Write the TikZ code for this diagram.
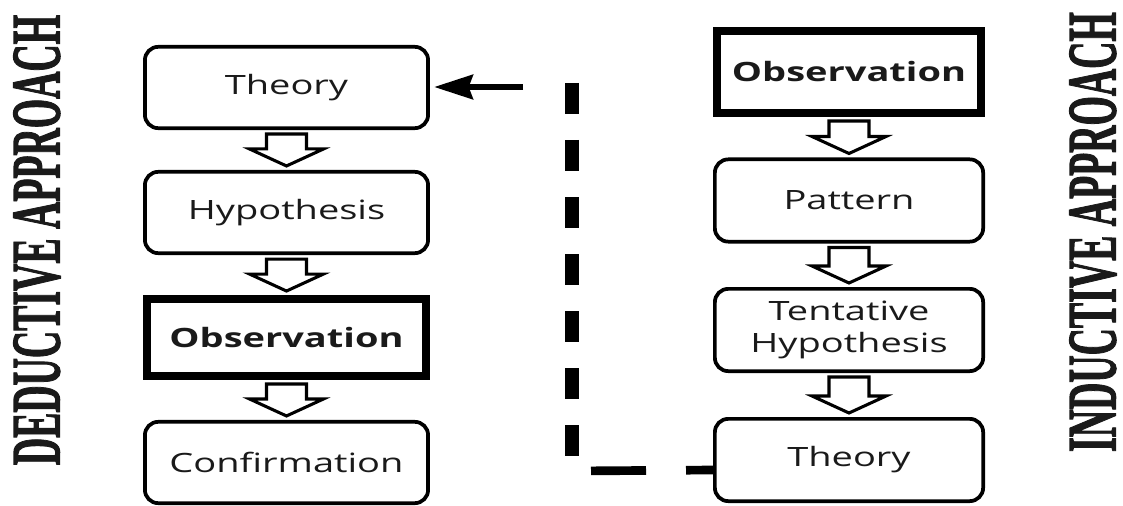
\documentclass[tikz,border=0pt]{standalone}
\usepackage{fontspec}
\usepackage{graphicx}
\setmainfont{Open Sans}
\newfontfamily\labelserif{Liberation Serif Bold}[FakeBold=2]
\usetikzlibrary{arrows.meta,calc}
\definecolor{txt}{HTML}{1A1A1A}
\newcommand\sq[1]{\scalebox{1}[0.7]{#1}}
\newcommand\harrow[2]{%
  \draw[hollow] ($(#1.south)+(-20,4)$) -- ($(#1.south)+(20,4)$) -- ($(#2.north)+(20,-21)$)
    -- ($(#2.north)+(37,-21)$) -- ($(#2.north)+(0,-4)$) -- ($(#2.north)+(-37,-21)$)
    -- ($(#2.north)+(-20,-21)$) -- cycle;}
\begin{document}
\begin{tikzpicture}[x=0.75pt,y=-0.75pt,
  base/.style={draw=black, inner sep=0pt, text=txt, font=\fontsize{28.5}{34}\selectfont},
  lbox/.style={base, line width=2.8pt, rounded corners=10pt, minimum width=212.4pt, minimum height=61pt},
  lthick/.style={base, line width=6pt, minimum width=209.2pt, minimum height=57.7pt, font=\fontsize{28.5}{34}\selectfont\bfseries},
  rbox/.style={base, line width=2.8pt, rounded corners=10pt, minimum width=201.2pt, minimum height=61.7pt},
  rthick/.style={base, line width=6pt, minimum width=198pt, minimum height=61.5pt, font=\fontsize{28.5}{34}\selectfont\bfseries},
  hollow/.style={draw=black, fill=white, line width=2.3pt, line join=miter},
  vdash/.style={draw=black, line width=10pt, dash pattern=on 23.25pt off 19.5pt},
  hdash/.style={draw=black, line width=6.5pt, dash pattern=on 41.25pt off 30pt, dash phase=21pt},
  sidelabel/.style={text=txt, rotate=90, inner sep=0pt, font=\labelserif\fontsize{52}{60}\selectfont}
]
\useasboundingbox[fill=white] (0,0) rectangle (1123,506);

% left column (deductive)
\node[lbox]   (lth)  at (286.5,87.5)  {\sq{Theory}};
\node[lbox]   (lhy)  at (286.5,212.5) {\sq{Hypothesis}};
\node[lthick] (lob)  at (286.5,337.5) {\sq{Observation}};
\node[lbox]   (lco)  at (286.5,462.5) {\sq{Confirmation}};

% right column (inductive)
\node[rthick] (rob)  at (849,72)    {\sq{Observation}};
\node[rbox]   (rpa)  at (849,200.5) {\sq{Pattern}};
\node[rbox]   (rte)  at (849,330)   {\sq{\begin{tabular}{@{}c@{}}Tentative\\Hypothesis\end{tabular}}};
\node[rbox]   (rth)  at (849,460)   {\sq{Theory}};

% side labels
\node[sidelabel] (dlab) at (37,240)   {\scalebox{0.545}[1]{DEDUCTIVE APPROACH}};
\node[sidelabel] (ilab) at (1093,232) {\scalebox{0.545}[1]{INDUCTIVE APPROACH}};

% hollow block arrows
\harrow{lth}{lhy}
\harrow{lhy}{lob}
\harrow{lob}{lco}
\harrow{rob}{rpa}
\harrow{rpa}{rte}
\harrow{rte}{rth}

% feedback connector
\coordinate (corner) at (572,471);
\coordinate (vtop)   at (572,83);
\coordinate (astart) at (523,87);
\draw[hdash] ([yshift=-7.5pt]rth.west) -- (corner);
\draw[vdash] (vtop) -- (corner);
\draw[line width=5pt, -{Stealth[length=29pt,width=18pt,inset=3pt]}, shorten >=3pt] (astart) -- (lth.east |- astart);
\end{tikzpicture}
\end{document}
